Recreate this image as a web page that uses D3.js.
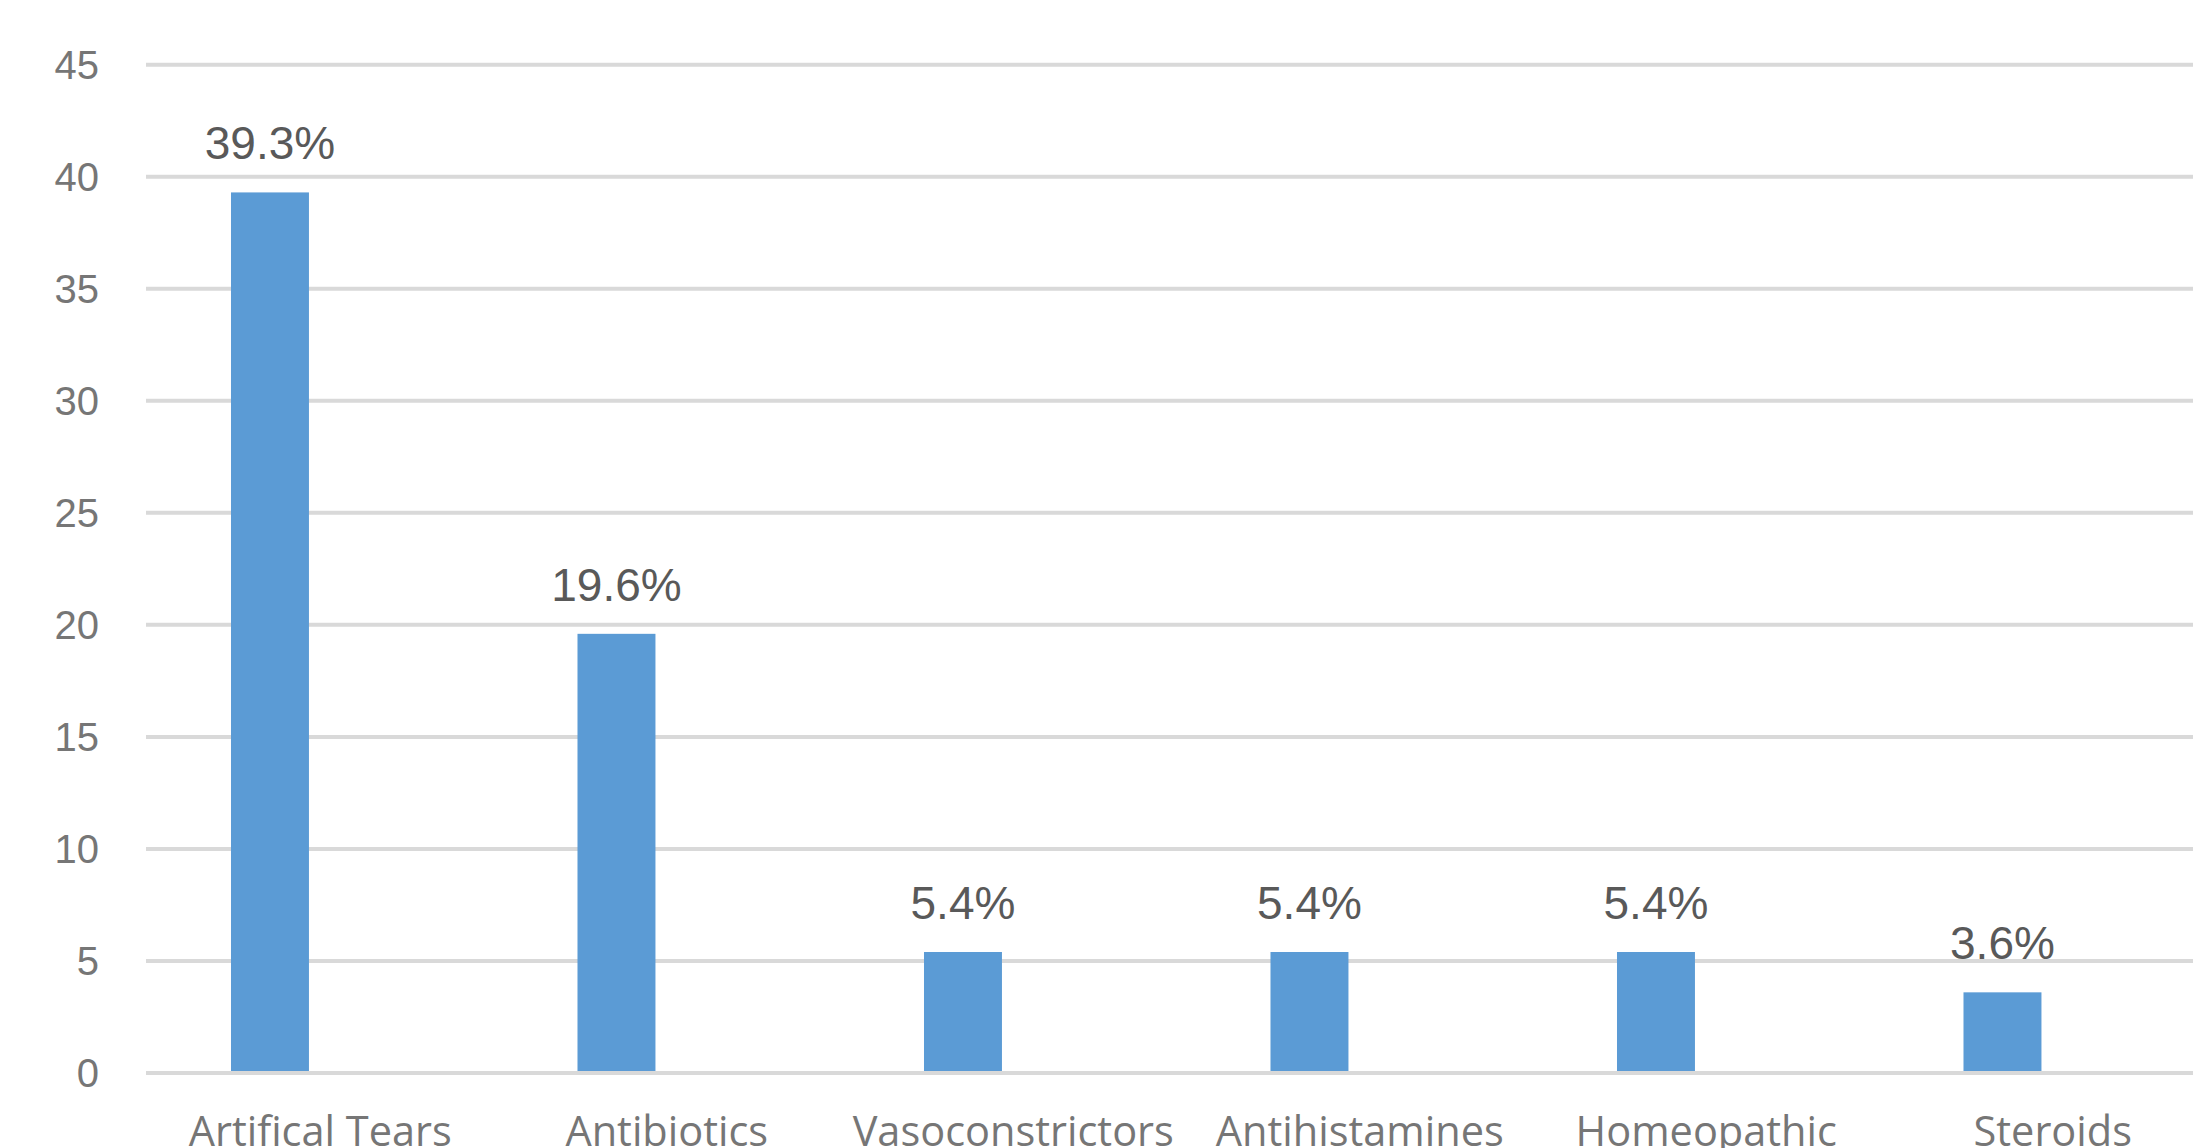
<!DOCTYPE html>
<html>
<head>
<meta charset="utf-8">
<script src="https://cdn.jsdelivr.net/npm/d3@7"></script>
<style>
  html, body { margin: 0; padding: 0; background: #fff; overflow: hidden; }
  svg { display: block; }
</style>
</head>
<body>
<svg id="chart" width="2193" height="1148"></svg>
<script>
const categories = ["Artifical Tears", "Antibiotics", "Vasoconstrictors", "Antihistamines", "Homeopathic", "Steroids"];
const values = [39.3, 19.6, 5.4, 5.4, 5.4, 3.6];
const yTicks = [0, 5, 10, 15, 20, 25, 30, 35, 40, 45];

const svg = d3.select("#chart");
const W = 2193, H = 1148;
const left = 147, step = 346.5;
const y0 = 1073, yTop = 64.7;

// category bands run past the right edge (chart is cropped there)
const x = d3.scaleBand()
  .domain(categories)
  .range([left, left + step * categories.length])
  .padding(0);

const y = d3.scaleLinear().domain([0, 45]).range([y0, yTop]);

// bar sits left of the category centre
const barOff = 0.2424, barW = 0.225;

// gridlines
svg.append("g").selectAll("line").data(yTicks).enter().append("line")
  .attr("x1", left - 1).attr("x2", W)
  .attr("y1", d => y(d)).attr("y2", d => y(d))
  .attr("stroke", "#d9d9d9").attr("stroke-width", 4);

// y labels
svg.append("g").selectAll("text").data(yTicks).enter().append("text")
  .attr("x", 99).attr("y", d => y(d))
  .attr("dy", "0.36em")
  .attr("text-anchor", "end")
  .attr("font-family", "Liberation Sans, Arial, sans-serif")
  .attr("font-size", 40)
  .attr("fill", "#767676")
  .text(d => d);

// bars
svg.append("g").selectAll("rect").data(values).enter().append("rect")
  .attr("x", (d, i) => x(categories[i]) + x.bandwidth() * barOff)
  .attr("width", x.bandwidth() * barW)
  .attr("y", d => y(d))
  .attr("height", d => y(0) - y(d) - 2)
  .attr("fill", "#5b9bd5");

// data labels
svg.append("g").selectAll("text").data(values).enter().append("text")
  .attr("x", (d, i) => x(categories[i]) + x.bandwidth() * (barOff + barW / 2))
  .attr("y", d => y(d) - 33)
  .attr("text-anchor", "middle")
  .attr("font-family", "Liberation Sans, Arial, sans-serif")
  .attr("font-size", 46)
  .attr("fill", "#595959")
  .text(d => d.toFixed(1) + "%");

// category labels (cropped at the bottom edge, as in the source)
svg.append("g").selectAll("text").data(categories).enter().append("text")
  .attr("x", d => x(d) + x.bandwidth() / 2)
  .attr("y", 1146)
  .attr("text-anchor", "middle")
  .attr("font-family", "Open Sans, sans-serif")
  .attr("font-size", 41.5)
  .attr("fill", "#767676")
  .text(d => d);
</script>
</body>
</html>
